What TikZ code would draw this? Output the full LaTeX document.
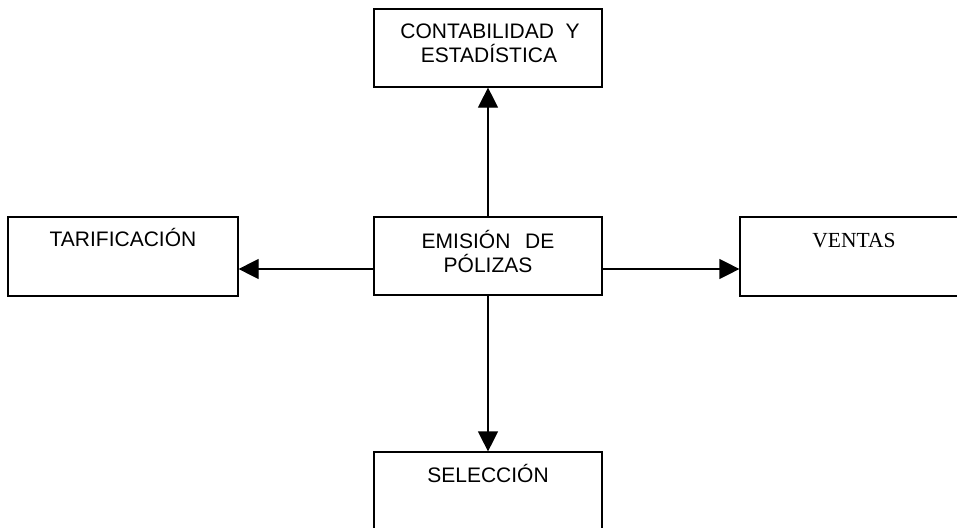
\documentclass[tikz,border=0pt]{standalone}
\usepackage{fontspec}
\setmainfont{Liberation Sans}
\newfontfamily\timesf{Liberation Serif}
\usetikzlibrary{arrows.meta}
\begin{document}
\begin{tikzpicture}[x=1pt,y=-1pt,
  box/.style={draw, line width=1.2pt, inner sep=0pt, minimum width=228pt, minimum height=78pt},
  lbl/.style={anchor=base, inner sep=0pt, font=\fontsize{21}{25}\selectfont},
  arr/.style={line width=1.2pt, -{Triangle[width=20pt,length=20pt]}}]
\useasboundingbox (0,0) rectangle (957,527);
\clip (0,0) rectangle (957,527);
\node[box] (cont) at (488,48) {};
\node[box, minimum width=230pt, minimum height=79pt] (tarif) at (123,256.5) {};
\node[box] (emis) at (488,256) {};
\node[box, minimum height=79pt] (vent) at (854,256.5) {};
\node[box] (selec) at (488,491) {};
\node[lbl] (c1) at (490,38) {CONTABILIDAD\hspace{0.55em}Y};
\node[lbl] (c2) at (489,63) {ESTADÍSTICA};
\node[lbl] (t1) at (123,246) {TARIFICACIÓN};
\node[lbl] (e1) at (488,248) {EMISIÓN\hspace{0.7em}DE};
\node[lbl] (e2) at (488,272) {PÓLIZAS};
\node[lbl, font=\timesf\fontsize{21.5}{25}\selectfont] (v1) at (854,247) {VENTAS};
\node[lbl] (s1) at (488,482) {SELECCIÓN};
\draw[arr] (emis.north) -- (cont.south);
\draw[arr] (emis.south) -- (selec.north);
\draw[arr] ([yshift=-13pt]emis.west) -- ([yshift=-13pt]emis.west -| tarif.east);
\draw[arr] ([yshift=-13pt]emis.east) -- ([yshift=-13pt]emis.east -| vent.west);
\end{tikzpicture}
\end{document}
